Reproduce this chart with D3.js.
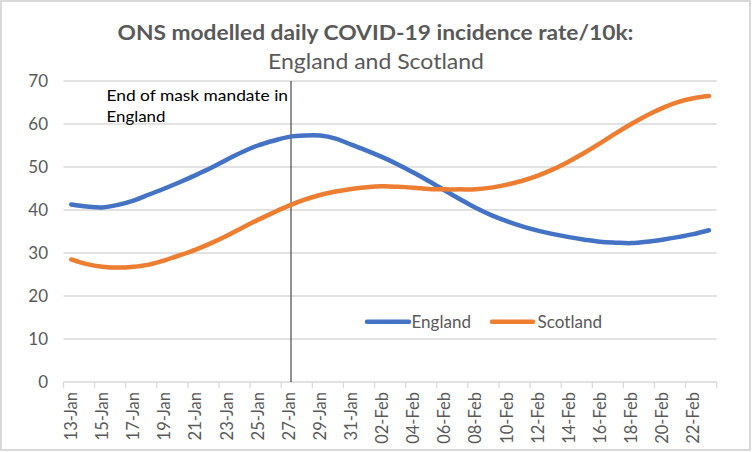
<!DOCTYPE html>
<html><head><meta charset="utf-8">
<script src="https://cdn.jsdelivr.net/npm/d3@7"></script>
<style>body{margin:0;background:#fff;} svg{display:block;font-family:Lato,"Open Sans",sans-serif;}</style>
</head><body><svg id="c" width="752" height="452"></svg>
<script>
const titleLine1 = "ONS modelled daily COVID-19 incidence rate/10k:";
const titleLine2 = "England and Scotland";
const categories = ["13-Jan","14-Jan","15-Jan","16-Jan","17-Jan","18-Jan","19-Jan","20-Jan","21-Jan","22-Jan","23-Jan","24-Jan","25-Jan","26-Jan","27-Jan","28-Jan","29-Jan","30-Jan","31-Jan","01-Feb","02-Feb","03-Feb","04-Feb","05-Feb","06-Feb","07-Feb","08-Feb","09-Feb","10-Feb","11-Feb","12-Feb","13-Feb","14-Feb","15-Feb","16-Feb","17-Feb","18-Feb","19-Feb","20-Feb","21-Feb","22-Feb","23-Feb"];
const england = [41.3,40.8,40.6,41.2,42.2,43.6,45.0,46.5,48.1,49.8,51.7,53.5,55.0,56.1,57.0,57.3,57.3,56.6,55.2,53.8,52.3,50.6,48.7,46.7,44.6,42.5,40.5,38.8,37.4,36.2,35.2,34.4,33.7,33.1,32.6,32.4,32.3,32.6,33.1,33.7,34.4,35.3];
const scotland = [28.5,27.4,26.8,26.6,26.8,27.3,28.3,29.5,30.8,32.3,34.0,35.9,37.7,39.4,41.0,42.4,43.5,44.3,44.9,45.3,45.5,45.4,45.2,44.9,44.8,44.8,44.8,45.2,45.9,46.8,48.0,49.5,51.3,53.3,55.5,57.8,60.0,62.0,63.7,65.1,66.0,66.5];
const seriesNames = ["England","Scotland"];
const seriesColors = ["#4472C4","#ED7D31"];
const yTicks = [0,10,20,30,40,50,60,70];
const annotationDate = "27-Jan";
const annotationLines = ["End of mask mandate in","England"];

const svg = d3.select("#c");
svg.append("rect").attr("x",1).attr("y",1).attr("width",749).attr("height",449)
  .attr("fill","#fff").attr("stroke","#d9d9d9").attr("stroke-width",2);

const L = 63.5, R = 716.7, T = 81, B = 382;
const x = d3.scaleBand().domain(categories).range([L,R]).padding(0);
const y = d3.scaleLinear().domain([0,70]).range([B,T]);
const cx = d => x(d) + x.bandwidth()/2;

// gridlines
svg.append("g").selectAll("line").data(yTicks).join("line")
  .attr("x1",L).attr("x2",R).attr("y1",d=>y(d)).attr("y2",d=>y(d))
  .attr("stroke","#d9d9d9").attr("stroke-width",1.3);

// y labels
svg.append("g").selectAll("text").data(yTicks).join("text")
  .attr("x",48).attr("y",d=>y(d)).attr("dy","0.36em").attr("text-anchor","end")
  .attr("font-size",17).attr("fill","#595959").text(d=>d);

// x tick marks every 2 categories
const tickIdx = d3.range(0, categories.length+1, 2);
svg.append("g").selectAll("line").data(tickIdx).join("line")
  .attr("x1",i=>L + i*x.bandwidth()).attr("x2",i=>L + i*x.bandwidth())
  .attr("y1",B).attr("y2",B+6).attr("stroke","#d9d9d9").attr("stroke-width",1.3);

// x labels
const shown = categories.filter((c,i)=>i%2===0);
svg.append("g").selectAll("text").data(shown).join("text")
  .attr("transform",d=>`translate(${cx(d)},392) rotate(-90)`)
  .attr("text-anchor","end").attr("dy","0.35em")
  .attr("font-size",16.5).attr("fill","#595959").text(d=>d);

// annotation line
svg.append("line").attr("x1",cx(annotationDate)+2).attr("x2",cx(annotationDate)+2)
  .attr("y1",T).attr("y2",B).attr("stroke","#262626").attr("stroke-width",1);
const ann = svg.append("g");
ann.append("text").attr("x",106.5).attr("y",100.5).attr("font-size",16)
  .attr("fill","#000").attr("textLength",181.5).attr("lengthAdjust","spacingAndGlyphs").text(annotationLines[0]);
ann.append("text").attr("x",106.5).attr("y",121.5).attr("font-size",16)
  .attr("fill","#000").attr("textLength",59).attr("lengthAdjust","spacingAndGlyphs").text(annotationLines[1]);

// lines
const line = d3.line().x((d,i)=>cx(categories[i])).y(d=>y(d)).curve(d3.curveCatmullRom.alpha(0.5));
[england, scotland].forEach((s,k)=>{
  svg.append("path").attr("d",line(s)).attr("fill","none")
    .attr("stroke",seriesColors[k]).attr("stroke-width",4.5)
    .attr("stroke-linecap","round").attr("stroke-linejoin","round");
});

// legend
const leg = [{x1:367,x2:409,tx:411.5,tw:59.5},{x1:492,x2:533,tx:537.5,tw:64.5}];
leg.forEach((g,k)=>{
  svg.append("line").attr("x1",g.x1).attr("x2",g.x2).attr("y1",321.7).attr("y2",321.7)
    .attr("stroke",seriesColors[k]).attr("stroke-width",4.5).attr("stroke-linecap","round");
  svg.append("text").attr("x",g.tx).attr("y",321.7).attr("dy","0.36em").attr("font-size",17)
    .attr("fill","#595959").attr("textLength",g.tw).attr("lengthAdjust","spacingAndGlyphs").text(seriesNames[k]);
});

// title
svg.append("text").attr("x",375.5).attr("y",40).attr("text-anchor","middle")
  .attr("font-size",21).attr("font-weight","bold").attr("fill","#595959")
  .attr("textLength",516).attr("lengthAdjust","spacingAndGlyphs").text(titleLine1);
svg.append("text").attr("x",376).attr("y",69).attr("text-anchor","middle")
  .attr("font-size",21).attr("fill","#595959")
  .attr("textLength",216).attr("lengthAdjust","spacingAndGlyphs").text(titleLine2);
</script></body></html>
